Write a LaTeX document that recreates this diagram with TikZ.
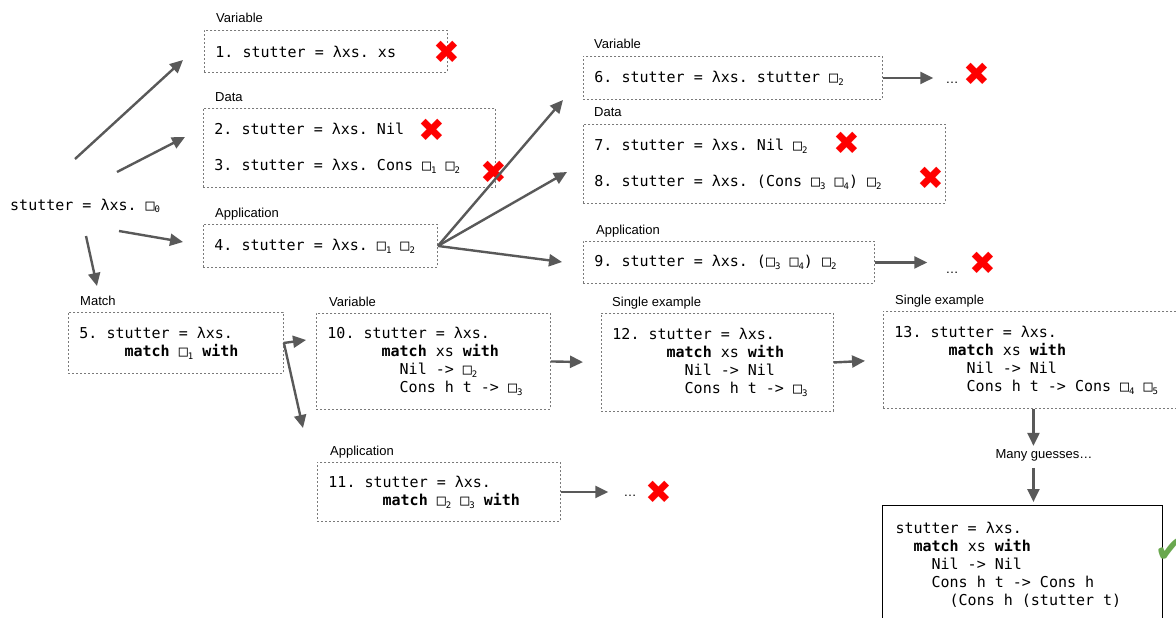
\documentclass[tikz,border=0pt]{standalone}
\usepackage{fontspec}
\setmainfont{Liberation Sans}
\newfontfamily\codefont{DejaVu Sans Mono}
\newfontfamily\symfont{DejaVu Sans}
\usetikzlibrary{arrows.meta,positioning}
\definecolor{arrowgray}{HTML}{595959}
\definecolor{boxgray}{HTML}{7A7A7A}
\definecolor{crossred}{HTML}{FF0000}
\definecolor{checkgreen}{HTML}{6AA84F}
\frenchspacing
\newcommand{\hole}[1]{□\raisebox{-0.35ex}{\fontsize{9}{9}\selectfont #1}}
\newcommand{\ind}[1]{\hspace*{#1\dimexpr 0.602em\relax}}
\tikzset{
  code/.style={font=\codefont\fontsize{15}{18}\selectfont, align=left,
    execute at begin node={\spaceskip=0.602em\relax\xspaceskip=0.602em\relax}},
  box/.style={code, draw=boxgray, dash pattern=on 2pt off 2pt, line width=0.9pt,
    anchor=north west, inner xsep=11pt, inner ysep=0pt},
  tag/.style={font=\fontsize{13}{13}\selectfont, anchor=base west, inner sep=0pt},
  arr/.style={draw=arrowgray, line width=2.4pt, -{Triangle[length=13pt,width=12pt]}},
  nope/.style={font=\symfont\fontsize{32}{32}\selectfont, text=crossred, inner sep=0pt},
  dots/.style={font=\fontsize{13}{13}\selectfont, anchor=base, inner sep=0pt},
}
\begin{document}
\begin{tikzpicture}[x=1pt,y=-1pt]
  \useasboundingbox (0,0) rectangle (1176,618);
  \clip (0,0) rectangle (1176,618);

  \node[code, anchor=base west, inner sep=0pt] (root) at (10,210) {stutter = λxs. \hole{0}};

  \node[box, text width=221pt, minimum height=42pt] (b1) at (204,30) {1. stutter = λxs. xs};
  \node[box, text width=270pt, minimum height=79pt] (b23) at (203,108)
    {2. stutter = λxs. Nil\\[18pt]3. stutter = λxs. Cons \hole{1} \hole{2}};
  \node[box, text width=212pt, minimum height=43pt] (b4) at (203,224) {4. stutter = λxs. \hole{1} \hole{2}};
  \node[box, text width=193pt, minimum height=61pt] (b5) at (68,312)
    {5. stutter = λxs.\\ \ind{5}\textbf{match} \hole{1} \textbf{with}};

  \node[box, text width=277pt, minimum height=43pt] (b6) at (583,56) {6. stutter = λxs. stutter \hole{2}};
  \node[box, text width=340pt, minimum height=79pt] (b78) at (583,124)
    {7. stutter = λxs. Nil \hole{2}\\[18pt]8. stutter = λxs. (Cons \hole{3} \hole{4}) \hole{2}};
  \node[box, text width=269pt, minimum height=42pt] (b9) at (583,241) {9. stutter = λxs. (\hole{3} \hole{4}) \hole{2}};

  \node[box, text width=212pt, minimum height=96pt] (b10) at (316,313)
    {10. stutter = λxs.\\ \ind{6}\textbf{match} xs \textbf{with}\\ \ind{8}Nil -> \hole{2}\\ \ind{8}Cons h t -> \hole{3}};
  \node[box, text width=221pt, minimum height=59pt] (b11) at (317,462)
    {11. stutter = λxs.\\ \ind{6}\textbf{match} \hole{2} \hole{3} \textbf{with}};
  \node[box, text width=210pt, minimum height=98pt] (b12) at (601,313)
    {12. stutter = λxs.\\ \ind{6}\textbf{match} xs \textbf{with}\\ \ind{8}Nil -> Nil\\ \ind{8}Cons h t -> \hole{3}};
  \node[box, text width=278pt, minimum height=97pt] (b13) at (883,311)
    {13. stutter = λxs.\\ \ind{6}\textbf{match} xs \textbf{with}\\ \ind{8}Nil -> Nil\\ \ind{8}Cons h t -> Cons \hole{4} \hole{5}};
  \node[code, draw, line width=1pt, anchor=north west, inner xsep=13pt, inner ysep=0pt,
    text width=254pt, minimum height=118pt] (fin) at (882,505)
    {stutter = λxs.\\ \ind{2}\textbf{match} xs \textbf{with}\\ \ind{4}Nil -> Nil\\ \ind{4}Cons h t -> Cons h\\ \ind{6}(Cons h (stutter t)};

  \node[tag] (l1) at ([xshift=12pt,yshift=7pt]b1.north west) {Variable};
  \node[tag] (l23) at ([xshift=12pt,yshift=7pt]b23.north west) {Data};
  \node[tag] (l4) at ([xshift=12pt,yshift=7pt]b4.north west) {Application};
  \node[tag] (l5) at ([xshift=12pt,yshift=7pt]b5.north west) {Match};
  \node[tag] (l6) at ([xshift=11pt,yshift=7pt]b6.north west) {Variable};
  \node[tag] (l78) at ([xshift=11pt,yshift=7pt]b78.north west) {Data};
  \node[tag] (l9) at ([xshift=13pt,yshift=7pt]b9.north west) {Application};
  \node[tag] (l10) at ([xshift=13pt,yshift=7pt]b10.north west) {Variable};
  \node[tag] (l11) at ([xshift=13pt,yshift=7pt]b11.north west) {Application};
  \node[tag] (l12) at ([xshift=11pt,yshift=7pt]b12.north west) {Single example};
  \node[tag] (l13) at ([xshift=12pt,yshift=7pt]b13.north west) {Single example};
  \node[tag, anchor=base] (guess) at (1044,458) {Many guesses…};

  \node[nope] (x1) at (447,52) {✖};
  \node[nope] (x2) at (432,130) {✖};
  \node[nope] (x3) at (494,172) {✖};
  \node[nope] (x6) at (977,74) {✖};
  \node[nope] (x7) at (847,143) {✖};
  \node[nope] (x8) at (931,178) {✖};
  \node[nope] (x9) at (983,263) {✖};
  \node[nope] (x11) at (659,492) {✖};
  \node[dots] (d6) at (952,84) {…};
  \node[dots] (d9) at (952,273) {…};
  \node[dots] (d11) at (630,496) {…};
  \node[font=\symfont\fontsize{38}{38}\selectfont, text=checkgreen, inner sep=0pt] (ok) at (1170,551) {✔};

  \coordinate (r1) at (75,159);
  \coordinate (t1) at (183,60);
  \coordinate (r2) at (117,172);
  \coordinate (t2) at (185,137);
  \coordinate (r3) at (119,231);
  \coordinate (t3) at (183,242);
  \coordinate (r4) at (86,236);
  \coordinate (t4) at (97,286);
  \coordinate (t6) at (563,100);
  \coordinate (t78) at (567,172);
  \coordinate (t9) at (562,262);
  \coordinate (t10) at (306,340);
  \coordinate (t11) at (303,428);

  \draw[arr] (r1) -- (t1);
  \draw[arr] (r2) -- (t2);
  \draw[arr] (r3) -- (t3);
  \draw[arr] (r4) -- (t4);
  \draw[arr] (b4.east) -- (t6);
  \draw[arr] (b4.east) -- (t78);
  \draw[arr] (b4.east) -- (t9);
  \draw[arr] (b5.east) -- (t10);
  \draw[arr] (b5.east) -- (t11);
  \draw[arr, shorten >=12pt] (b6.east) -- (b6.east -| d6.west);
  \draw[arr, shorten >=18pt] (b9.east) -- (b9.east -| d9.west);
  \draw[arr, shorten >=15pt] (b11.east) -- (b11.east -| d11.west);
  \draw[arr, shorten >=18pt] (b10.east) -- (b12.west);
  \draw[arr, shorten >=18pt] (b12.east) -- (b13.west);
  \draw[arr, shorten >=3pt] (b13.south) -- (b13.south |- guess.north);
  \draw[arr, shorten <=7pt, shorten >=3pt] (b13.south |- guess.south) -- (b13.south |- fin.north);
\end{tikzpicture}
\end{document}
